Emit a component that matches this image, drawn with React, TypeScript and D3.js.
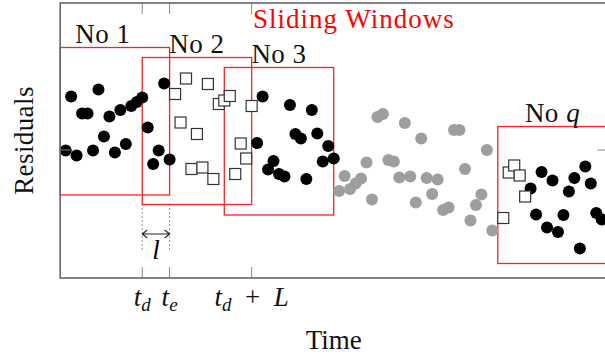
import * as d3 from "d3";

// residuals, indexed by time step (x = step number)
const firstSteps = [1, 20];
const firstResiduals = [
  -0.01, 1.07, -0.11, 0.73, 0.73, -0.01, 1.21, 0.27, 0.67, -0.05,
  0.8, 0.12, 0.88, 0.96, 1.05, 0.45, -0.28, -0.01, 1.33, -0.19,
];
const newStepsNo2 = [21, 35];
const newResidualsNo2 = [
  1.12, 0.55, 1.43, -0.38, 0.32, -0.35, 1.32, -0.58, 0.92, 0.99,
  1.08, -0.48, 0.13, -0.17, 0.88,
];
const restStepsNo3 = [36, 50];
const restResidualsNo3 = [
  0.14, 1.07, -0.39, -0.22, -0.48, -0.53, 0.9, 0.32, 0.23, -0.58,
  0.8, 0.33, -0.23, 0.08, -0.17,
];
const skippedSteps = [51, 79];
const skippedResiduals = [
  -0.82, -0.52, -0.78, -0.67, -0.57, -0.25, -0.99, 0.66, 0.72, -0.2,
  -0.23, -0.55, 0.54, -0.53, -1.05, 0.23, -0.56, -0.88, -0.59, -1.2,
  -1.15, 0.4, 0.4, -0.38, -1.41, -1.1, -0.89, 0.0, -1.61,
];
const newStepsNoQ = [81, 85];
const newResidualsNoQ = [-1.36, -0.45, -0.31, -0.51, -0.93];
const restStepsNoQ = [86, 99];
const restResidualsNoQ = [
  -0.77, -1.29, -0.44, -1.55, -0.61, -1.64, -1.3, -0.83, -0.56, -1.97,
  -0.33, -0.67, -1.26, -1.39,
];

const windowLength = 20;
const windowStarts = [0, 15, 30, 80];
const windowLabels = ["No 1", "No 2", "No 3", "No q"];
const windowLabelShift = [-12, 0, 0, 0];
const windowTops = [2.05, 1.85, 1.65, 0.47];
const windowBottoms = [-0.9, -1.09, -1.3, -2.27];

const tickSteps = [15, 20, 35];

const width = 605;
const height = 356;
const left = 60.2;
const top = 3;
const bottom = 278;
const right = 607.2;

const font = "'Liberation Serif', 'Times New Roman', serif";

const toPoints = (range: number[], vals: number[]) =>
  vals.map((v, i) => ({ t: range[0] + i, r: v }));

export default function App() {
  const x = d3.scaleLinear().domain([0, 100]).range([left, right]);
  const y = d3.scaleLinear().domain([-2.56, 2.94]).range([bottom, top]);

  const black = [
    ...toPoints(firstSteps, firstResiduals),
    ...toPoints(restStepsNo3, restResidualsNo3),
    ...toPoints(restStepsNoQ, restResidualsNoQ),
  ];
  const squares = [
    ...toPoints(newStepsNo2, newResidualsNo2),
    ...toPoints(newStepsNoQ, newResidualsNoQ),
  ];
  const gray = toPoints(skippedSteps, skippedResiduals);

  const sq = 11;
  const xd = x(tickSteps[0]);
  const xe = x(tickSteps[1]);
  const arrowY = 234;

  return (
    <svg
      width={width}
      height={height}
      style={{ position: "absolute", left: 0, top: 0, background: "#fff" }}
      fontFamily={font}
    >
      {/* windows */}
      {windowStarts.map((s, i) => (
        <g key={i}>
          <rect
            x={x(s)}
            y={y(windowTops[i])}
            width={x(s + windowLength) - x(s)}
            height={y(windowBottoms[i]) - y(windowTops[i])}
            fill="none"
            stroke="#ff2020"
            strokeWidth={1.3}
          />
          <text
            x={(x(s) + x(s + windowLength)) / 2 + windowLabelShift[i]}
            y={y(windowTops[i]) - 5}
            textAnchor="middle"
            fontSize={27}
            letterSpacing={0.5}
            fill="#111"
          >
            {i === 3 ? (
              <>
                No <tspan fontStyle="italic">q</tspan>
              </>
            ) : (
              windowLabels[i]
            )}
          </text>
        </g>
      ))}

      <text x={253} y={28} fontSize={27} letterSpacing={1} fill="#ff0000">
        Sliding Windows
      </text>

      {/* l marker */}
      {[xd, xe].map((px, i) => (
        <line
          key={i}
          x1={px}
          x2={px}
          y1={y(windowBottoms[1])}
          y2={250}
          stroke="#333"
          strokeWidth={1}
          strokeDasharray="1 3"
        />
      ))}
      <path
        d={`M${xd},${arrowY}H${xe}M${xd + 5},${arrowY - 4}L${xd},${arrowY}L${xd + 5},${arrowY + 4}M${xe - 5},${arrowY - 4}L${xe},${arrowY}L${xe - 5},${arrowY + 4}`}
        fill="none"
        stroke="#222"
        strokeWidth={1.1}
      />
      <text x={(xd + xe) / 2} y={259} textAnchor="middle" fontSize={27} fontStyle="italic">
        l
      </text>

      {/* points */}
      {gray.map((d, i) => (
        <circle key={"g" + i} cx={x(d.t)} cy={y(d.r)} r={6} fill="#9e9e9e" />
      ))}
      {black.map((d, i) => (
        <circle key={"b" + i} cx={x(d.t)} cy={y(d.r)} r={6} fill="#000" />
      ))}
      {squares.map((d, i) => (
        <rect
          key={"s" + i}
          x={x(d.t) - sq / 2}
          y={y(d.r) - sq / 2}
          width={sq}
          height={sq}
          fill="#fff"
          stroke="#333"
          strokeWidth={1.2}
        />
      ))}

      {/* frame and ticks */}
      {tickSteps.map((t) => (
        <g key={t} stroke="#888" strokeWidth={1}>
          <line x1={x(t)} x2={x(t)} y1={bottom} y2={bottom - 11} />
          <line x1={x(t)} x2={x(t)} y1={top} y2={top + 11} />
        </g>
      ))}
      <g stroke="#888" strokeWidth={1}>
        <line x1={left} x2={left + 10} y1={y(0)} y2={y(0)} />
        <line x1={right - 10} x2={right} y1={y(0)} y2={y(0)} />
      </g>
      <rect
        x={left}
        y={top}
        width={right - left}
        height={bottom - top}
        fill="none"
        stroke="#666"
        strokeWidth={1.6}
      />

      {/* tick labels */}
      <g fontSize={27} textAnchor="middle" fill="#111">
        <text x={x(tickSteps[0])} y={306}>
          <tspan fontStyle="italic">t</tspan>
          <tspan fontStyle="italic" fontSize={19} dy={5}>d</tspan>
        </text>
        <text x={x(tickSteps[1])} y={306}>
          <tspan fontStyle="italic">t</tspan>
          <tspan fontStyle="italic" fontSize={19} dy={5}>e</tspan>
        </text>
        <text x={x(tickSteps[2])} y={306}>
          <tspan fontStyle="italic">t</tspan>
          <tspan fontStyle="italic" fontSize={19} dy={5}>d</tspan>
          <tspan dy={-5}>{"\u2002+\u2002"}</tspan>
          <tspan fontStyle="italic">L</tspan>
        </text>
      </g>

      <text x={(left + right) / 2} y={349} textAnchor="middle" fontSize={27} fill="#111">
        Time
      </text>
      <text
        transform={`translate(33,${(top + bottom) / 2}) rotate(-90)`}
        textAnchor="middle"
        fontSize={27}
        letterSpacing={0.4}
        fill="#111"
      >
        Residuals
      </text>
    </svg>
  );
}
